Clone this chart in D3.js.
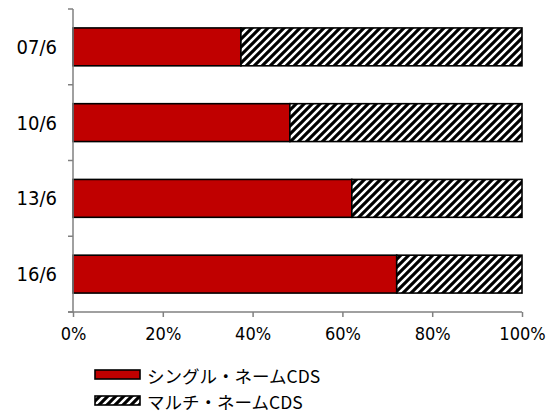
<!DOCTYPE html>
<html>
<head>
<meta charset="utf-8">
<script src="https://cdn.jsdelivr.net/npm/d3@7"></script>
<style>
  html, body { margin: 0; padding: 0; background: #fff; }
  svg text { font-family: "DejaVu Sans Condensed", "DejaVu Sans", "Noto Sans CJK JP", sans-serif; font-stretch: condensed; fill: #000; }
  svg text.leg { font-family: "Noto Sans CJK JP", "DejaVu Sans Condensed", sans-serif; }
</style>
</head>
<body>
<svg id="chart" width="548" height="413"></svg>
<script>
// Share of single-name vs multi-name CDS by date
const categories = ["07/6", "10/6", "13/6", "16/6"];
const singleName = [0.374, 0.483, 0.621, 0.721];
const multiName = singleName.map(v => 1 - v);
const seriesNames = ["シングル・ネームCDS", "マルチ・ネームCDS"];
const xTicks = [0, 0.2, 0.4, 0.6, 0.8, 1.0];

const svg = d3.select("#chart");
const plotLeft = 73, plotRight = 522, plotTop = 9, plotBottom = 312;

const x = d3.scaleLinear().domain([0, 1]).range([plotLeft, plotRight]);
const y = d3.scaleBand().domain(categories).range([plotTop, plotBottom]).paddingInner(0.5).paddingOuter(0.25);
const yBand = d3.scaleBand().domain(categories).range([plotTop, plotBottom]);

// Diagonal hatch for the multi-name series
const defs = svg.append("defs");
const pat = defs.append("pattern")
  .attr("id", "hatch").attr("patternUnits", "userSpaceOnUse")
  .attr("width", 8).attr("height", 8);
pat.append("rect").attr("width", 8).attr("height", 8).attr("fill", "#fff");
pat.append("path")
  .attr("d", "M-2,2 L2,-2 M0,8 L8,0 M6,10 L10,6")
  .attr("stroke", "#000").attr("stroke-width", 3.1);

const rows = categories.map((c, i) => ({ c, s: singleName[i], m: multiName[i] }));

// Bars
const g = svg.append("g");
g.selectAll("rect.single").data(rows).join("rect")
  .attr("class", "single")
  .attr("x", x(0)).attr("y", d => y(d.c))
  .attr("width", d => x(d.s) - x(0)).attr("height", y.bandwidth())
  .attr("fill", "#C00000").attr("stroke", "#000").attr("stroke-width", 1.6);
g.selectAll("rect.multi").data(rows).join("rect")
  .attr("class", "multi")
  .attr("x", d => x(d.s)).attr("y", d => y(d.c))
  .attr("width", d => x(d.s + d.m) - x(d.s)).attr("height", y.bandwidth())
  .attr("fill", "url(#hatch)").attr("stroke", "#000").attr("stroke-width", 1.6);

// Y axis: line with ticks at band boundaries
const yTickPos = categories.map(c => yBand(c)).concat([plotBottom]);
svg.append("line").attr("x1", plotLeft).attr("x2", plotLeft).attr("y1", plotTop).attr("y2", plotBottom)
  .attr("stroke", "#808080").attr("stroke-width", 1.5);
svg.selectAll("line.ytick").data(yTickPos).join("line")
  .attr("class", "ytick")
  .attr("x1", plotLeft - 5).attr("x2", plotLeft).attr("y1", d => d).attr("y2", d => d)
  .attr("stroke", "#808080").attr("stroke-width", 1.5);
svg.selectAll("text.ylab").data(categories).join("text")
  .attr("class", "ylab")
  .attr("x", 57).attr("y", d => yBand(d) + yBand.bandwidth() / 2)
  .attr("text-anchor", "end").attr("dominant-baseline", "central")
  .attr("font-size", 20).text(d => d);

// X axis
const xAxis = d3.axisBottom(x).tickValues(xTicks).tickFormat(d3.format(".0%")).tickSize(5).tickSizeOuter(0);
const xg = svg.append("g").attr("transform", `translate(0,${plotBottom})`).call(xAxis);
xg.select(".domain").attr("stroke", "#808080").attr("stroke-width", 1.5).attr("d", `M${plotLeft - 5},0H${plotRight}`);
xg.selectAll(".tick line").attr("stroke", "#808080").attr("stroke-width", 1.5);
xg.selectAll(".tick text").attr("font-size", 18).attr("dy", "0").attr("y", 28)
  .style("font-family", "'DejaVu Sans Condensed', 'DejaVu Sans', sans-serif");

// Legend
const legend = svg.append("g");
const legY = [370, 396];
const fills = ["#C00000", "url(#hatch)"];
seriesNames.forEach((name, i) => {
  legend.append("rect").attr("x", 95).attr("y", legY[i]).attr("width", 45).attr("height", 9)
    .attr("fill", fills[i]).attr("stroke", "#000").attr("stroke-width", 1.6);
  legend.append("text").attr("class", "leg").attr("x", 147).attr("y", legY[i] + 5)
    .attr("dominant-baseline", "central").attr("font-size", 17.5).text(name);
});
</script>
</body>
</html>
